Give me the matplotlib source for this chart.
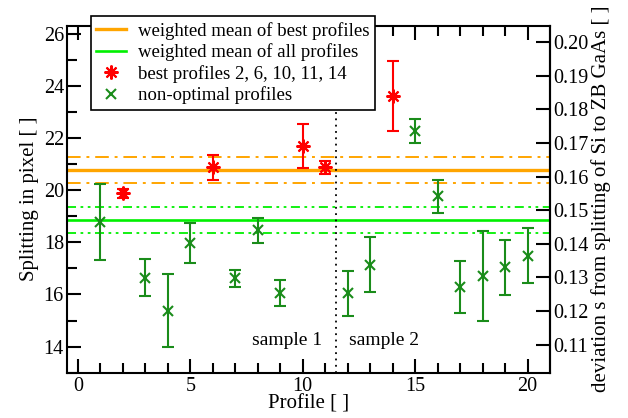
import matplotlib.pyplot as plt
import numpy as np

plt.rcParams['font.family'] = ['Liberation Serif', 'DejaVu Serif']

# data
best_x = [2, 6, 10, 11, 14]
best_y = [19.87, 20.87, 21.70, 20.87, 23.62]
best_err = [0.19, 0.47, 0.85, 0.26, 1.34]

other_x = [1, 3, 4, 5, 7, 8, 9, 12, 13, 15, 16, 17, 18, 19, 20]
other_y = [18.78, 16.64, 15.38, 17.98, 16.62, 18.46, 16.04, 16.05, 17.14,
           22.27, 19.76, 16.28, 16.70, 17.04, 17.48]
other_err = [1.45, 0.71, 1.40, 0.76, 0.33, 0.48, 0.50, 0.86, 1.06,
             0.47, 0.62, 1.00, 1.73, 1.05, 1.05]

mean_best, mean_best_err = 20.77, 0.50
mean_all, mean_all_err = 18.87, 0.50

# right axis: s as linear function of splitting
k, b = 0.007766, 0.00066

fig = plt.figure(figsize=(6.28, 4.18), dpi=100)
ax = fig.add_axes([0.1062, 0.1084, 0.7696, 0.8301])

orange = '#ffa500'
lgreen = '#00f000'
dgreen = '#1a8c1a'

ax.axhline(mean_best, color=orange, lw=2.4, label='weighted mean of best profiles')
for s in (-1, 1):
    ax.axhline(mean_best + s * mean_best_err, color=orange, lw=1.4, dashes=(7, 3, 1.5, 3))
ax.axhline(mean_all, color=lgreen, lw=1.9, label='weighted mean of all profiles')
for s in (-1, 1):
    ax.axhline(mean_all + s * mean_all_err, color=lgreen, lw=1.3,
               dashes=(5, 2.5, 1.5, 2.5, 1.5, 2.5))

ax.axvline(11.5, color='black', lw=1.3, ls=(0, (1, 2.5)))

ax.errorbar(best_x, best_y, yerr=best_err, fmt='none', ecolor='red',
            elinewidth=1.5, capsize=4, capthick=1.5)
ax.plot(best_x, best_y, ls='none', marker=(8, 2, 0), ms=10, mew=1.5,
        color='red', label='best profiles 2, 6, 10, 11, 14')
ax.errorbar(other_x, other_y, yerr=other_err, fmt='none', ecolor=dgreen,
            elinewidth=1.5, capsize=4, capthick=1.5)
ax.plot(other_x, other_y, ls='none', marker='x', ms=7, mew=1.5,
        color=dgreen, label='non-optimal profiles')

ax.text(10.85, 14.25, 'sample 1', fontsize=14, ha='right', va='center')
ax.text(12.05, 14.25, 'sample 2', fontsize=14, ha='left', va='center')

ax.set_xlim(-0.5, 21)
ax.set_ylim(13, 26.3)
ax.set_xticks([0, 5, 10, 15, 20])
ax.set_xticks(np.arange(0, 21, 1), minor=True)
ax.set_yticks([14, 16, 18, 20, 22, 24, 26])
ax.set_yticks(np.arange(13, 27, 1), minor=True)
ax.tick_params(which='both', direction='in', top=True, labelsize=14.5, width=1.5)
ax.tick_params(which='major', length=10)
ax.tick_params(which='minor', length=7)
ax.tick_params(axis='y', right=False, pad=2)
ax.tick_params(axis='x', pad=3)
for sp in ax.spines.values():
    sp.set_linewidth(1.5)

ax.set_xlabel('Profile [ ]', fontsize=15, labelpad=-1)
ax.set_ylabel('Splitting in pixel [ ]', fontsize=15, labelpad=3)

sec = ax.secondary_yaxis('right', functions=(lambda v: k * v + b, lambda s: (s - b) / k))
sec.set_yticks(np.arange(0.11, 0.201, 0.01))
sec.set_yticklabels(['%.2f' % t for t in np.arange(0.11, 0.201, 0.01)])
sec.tick_params(direction='in', length=10, width=1.5, labelsize=14.5, pad=2)
sec.spines['right'].set_linewidth(1.5)
sec.set_ylabel('deviation s from splitting of Si to ZB GaAs [ ]', fontsize=15, labelpad=2)

leg = ax.legend(loc='upper left', bbox_to_anchor=(90.7 / 628, 1 - 16 / 418),
                bbox_transform=fig.transFigure, borderaxespad=0, fontsize=13.5,
                fancybox=False, edgecolor='black', framealpha=1,
                handlelength=1.6, handletextpad=0.62, labelspacing=0.2,
                borderpad=0.3, numpoints=1)
leg.get_frame().set_linewidth(1.2)

fig.savefig('out.png', dpi=100)
